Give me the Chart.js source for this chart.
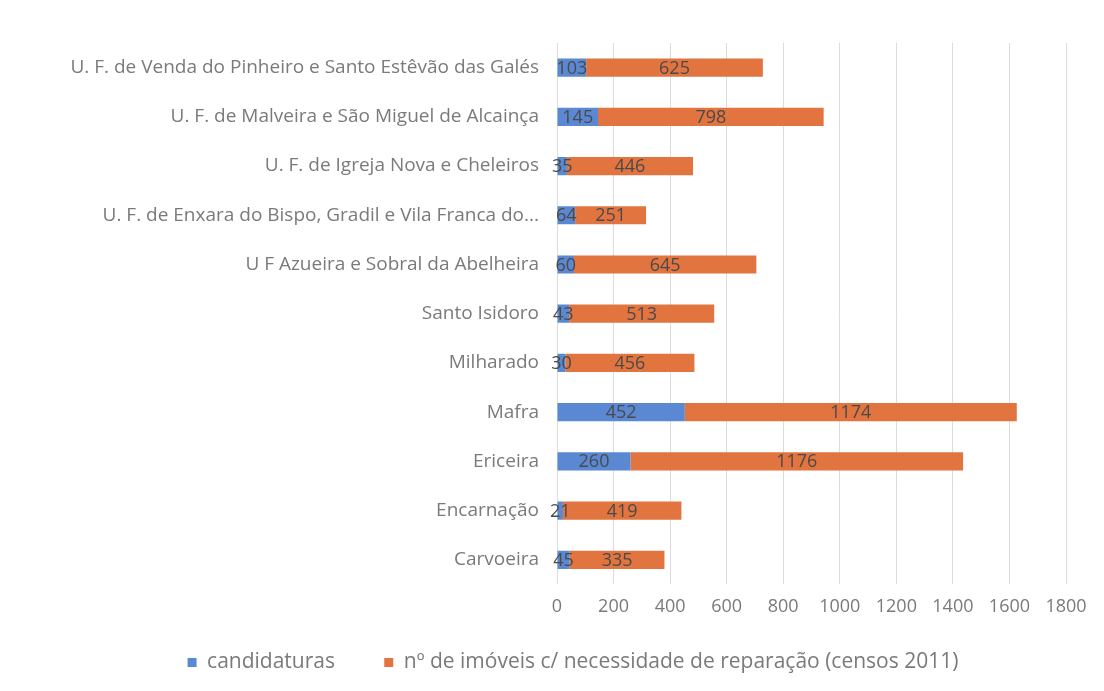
<!DOCTYPE html>
<html>
<head>
<meta charset="utf-8">
<script src="https://cdn.jsdelivr.net/npm/chart.js"></script>
<style>
  html, body { margin: 0; padding: 0; background: #fff; }
  #wrap { width: 1104px; height: 691px; }
</style>
</head>
<body>
<div id="wrap"><canvas id="grafico"></canvas></div>
<script>
    // freguesias, de cima para baixo
    const freguesias = [
        "U. F. de Venda do Pinheiro e Santo Estêvão das Galés",
        "U. F. de Malveira e São Miguel de Alcainça",
        "U. F. de Igreja Nova e Cheleiros",
        "U. F. de Enxara do Bispo, Gradil e Vila Franca do...",
        "U F Azueira e Sobral da Abelheira",
        "Santo Isidoro",
        "Milharado",
        "Mafra",
        "Ericeira",
        "Encarnação",
        "Carvoeira"
    ];
    const candidaturas = [103, 145, 35, 64, 60, 43, 30, 452, 260, 21, 45];
    const imoveisReparacao = [625, 798, 446, 251, 645, 513, 456, 1174, 1176, 419, 335];
    const escalaX = [0, 200, 400, 600, 800, 1000, 1200, 1400, 1600, 1800];

    const fonte = "'Open Sans', 'Liberation Sans', sans-serif";
    const cinza = "#7a7a7a";

    // rótulos com o valor no meio de cada segmento
    const rotulos = {
        id: "rotulos",
        afterDatasetsDraw(chart) {
            const ctx = chart.ctx;
            ctx.save();
            ctx.font = "18px " + fonte;
            ctx.fillStyle = "#4a4a4a";
            ctx.textAlign = "center";
            ctx.textBaseline = "middle";
            chart.data.datasets.forEach((ds, i) => {
                chart.getDatasetMeta(i).data.forEach((bar, j) => {
                    ctx.fillText(ds.data[j], (bar.x + bar.base) / 2, bar.y + 1);
                });
            });
            ctx.restore();
        }
    };

    // legenda um pouco mais para a direita
    const deslocaLegenda = {
        id: "deslocaLegenda",
        afterLayout(chart) {
            if (chart.legend) chart.legend.left += 70;
        }
    };

    new Chart(document.getElementById("grafico"), {
        type: "bar",
        data: {
            labels: freguesias,
            datasets: [
                {
                    label: "candidaturas",
                    data: candidaturas,
                    backgroundColor: "#5a88d2"
                },
                {
                    label: "nº de imóveis c/ necessidade de reparação (censos 2011)",
                    data: imoveisReparacao,
                    backgroundColor: "#e2743f"
                }
            ]
        },
        options: {
            indexAxis: "y",
            responsive: true,
            maintainAspectRatio: false,
            animation: false,
            datasets: { bar: { categoryPercentage: 1, barPercentage: 0.37 } },
            layout: { padding: { top: 43, right: 38, left: 10, bottom: 8 } },
            scales: {
                x: {
                    stacked: true,
                    min: 0,
                    max: 1800,
                    afterBuildTicks: s => { s.ticks = escalaX.map(v => ({ value: v })); },
                    grid: { color: "#dcdcdc", drawTicks: false },
                    border: { display: false },
                    ticks: {
                        color: cinza,
                        font: { size: 18, family: fonte },
                        padding: 12,
                        callback: v => String(v)
                    }
                },
                y: {
                    stacked: true,
                    afterFit: s => { s.width = 547; },
                    grid: { display: false },
                    border: { display: false },
                    ticks: { color: cinza, font: { size: 19, family: fonte }, padding: 10, autoSkip: false }
                }
            },
            plugins: {
                legend: {
                    position: "bottom",
                    labels: {
                        color: cinza,
                        font: { size: 21, family: fonte },
                        boxWidth: 9,
                        boxHeight: 9,
                        padding: 22,
                        // espaço extra depois de "candidaturas"
                        generateLabels: chart => {
                            const itens = Chart.defaults.plugins.legend.labels.generateLabels(chart);
                            itens[0].text += "\u00a0\u00a0\u00a0\u00a0\u00a0";
                            return itens;
                        }
                    }
                },
                tooltip: { enabled: false }
            }
        },
        plugins: [deslocaLegenda, rotulos]
    });
</script>
</body>
</html>
